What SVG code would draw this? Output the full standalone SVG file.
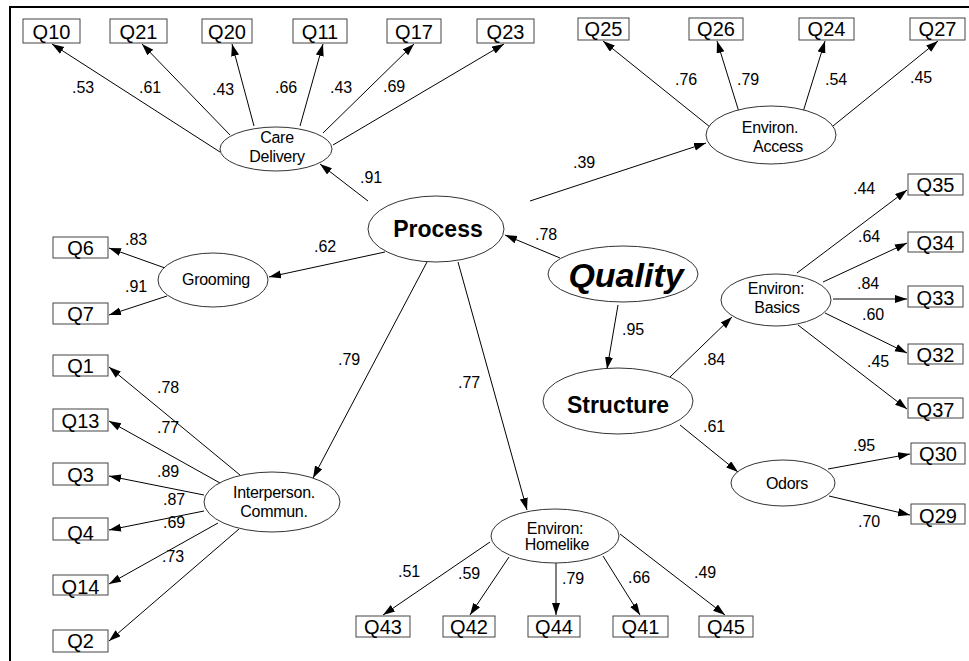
<svg xmlns="http://www.w3.org/2000/svg" width="969" height="661" viewBox="0 0 969 661">
<style>
.bx{fill:#fff;stroke:#444;stroke-width:1}
.bt{font-family:"Liberation Sans",Arial,sans-serif;font-size:20px;text-anchor:middle;fill:#000}
.el{fill:#fff;stroke:#333;stroke-width:1}
.lt{font-family:"Liberation Sans",Arial,sans-serif;font-size:16px;text-anchor:middle;fill:#000;letter-spacing:-0.3px}
.big{font-family:"Liberation Sans",Arial,sans-serif;font-size:23px;font-weight:bold;text-anchor:middle;fill:#000}
.ql{font-family:"Liberation Sans",Arial,sans-serif;font-size:34px;font-weight:bold;font-style:italic;text-anchor:middle;fill:#000}
.cn line{stroke:#000;stroke-width:1;marker-end:url(#ah)}
.cl{font-family:"Liberation Sans",Arial,sans-serif;font-size:16px;fill:#000}
</style>
<defs>
<marker id="ah" markerUnits="userSpaceOnUse" markerWidth="13" markerHeight="9" refX="12" refY="4" orient="auto">
<path d="M0,0 L12,4 L0,8 z" fill="#000"/>
</marker>
</defs>
<rect width="969" height="661" fill="#fff"/>
<path d="M10,661 V7 H969" fill="none" stroke="#000" stroke-width="2"/>

<g class="cn" id="connectors">
<line x1="220" y1="152" x2="52" y2="44"/>
<line x1="230" y1="135" x2="142" y2="44"/>
<line x1="254" y1="126" x2="232" y2="44"/>
<line x1="300" y1="126" x2="323" y2="44"/>
<line x1="323" y1="133" x2="414" y2="44"/>
<line x1="333" y1="145" x2="504" y2="44"/>
<line x1="368" y1="201" x2="320" y2="164"/>
<line x1="530" y1="201" x2="706" y2="143"/>
<line x1="710" y1="127" x2="603" y2="41"/>
<line x1="739" y1="112" x2="717" y2="41"/>
<line x1="803" y1="112" x2="825" y2="41"/>
<line x1="833" y1="126" x2="938" y2="41"/>
<line x1="385" y1="252" x2="269" y2="277"/>
<line x1="165" y1="268" x2="109" y2="248"/>
<line x1="167" y1="296" x2="109" y2="315"/>
<line x1="560" y1="258" x2="505" y2="235"/>
<line x1="618" y1="305" x2="607" y2="369"/>
<line x1="427" y1="262" x2="313" y2="478"/>
<line x1="458" y1="262" x2="527" y2="510"/>
<line x1="670" y1="377" x2="732" y2="317"/>
<line x1="680" y1="425" x2="738" y2="472"/>
<line x1="797" y1="273" x2="907" y2="190"/>
<line x1="823" y1="282" x2="907" y2="243"/>
<line x1="833" y1="299" x2="907" y2="299"/>
<line x1="825" y1="313" x2="907" y2="353"/>
<line x1="798" y1="325" x2="907" y2="409"/>
<line x1="828" y1="469" x2="910" y2="454"/>
<line x1="829" y1="496" x2="910" y2="515"/>
<line x1="240" y1="475" x2="109" y2="367"/>
<line x1="220" y1="483" x2="109" y2="421"/>
<line x1="204" y1="495" x2="109" y2="476"/>
<line x1="204" y1="511" x2="109" y2="530"/>
<line x1="218" y1="523" x2="109" y2="584"/>
<line x1="239" y1="529" x2="109" y2="641"/>
<line x1="490" y1="542" x2="383" y2="615"/>
<line x1="509" y1="557" x2="470" y2="615"/>
<line x1="556" y1="563" x2="556" y2="615"/>
<line x1="603" y1="556" x2="640" y2="615"/>
<line x1="620" y1="534" x2="725" y2="615"/>
<text class="cl" x="72" y="93">.53</text>
<text class="cl" x="139" y="93">.61</text>
<text class="cl" x="212" y="95">.43</text>
<text class="cl" x="275" y="93">.66</text>
<text class="cl" x="330" y="93">.43</text>
<text class="cl" x="383" y="92">.69</text>
<text class="cl" x="360" y="183">.91</text>
<text class="cl" x="573" y="168">.39</text>
<text class="cl" x="675" y="85">.76</text>
<text class="cl" x="737" y="85">.79</text>
<text class="cl" x="825" y="85">.54</text>
<text class="cl" x="910" y="83">.45</text>
<text class="cl" x="314" y="252">.62</text>
<text class="cl" x="125" y="245">.83</text>
<text class="cl" x="125" y="292">.91</text>
<text class="cl" x="535" y="240">.78</text>
<text class="cl" x="622" y="335">.95</text>
<text class="cl" x="338" y="365">.79</text>
<text class="cl" x="458" y="388">.77</text>
<text class="cl" x="703" y="365">.84</text>
<text class="cl" x="703" y="432">.61</text>
<text class="cl" x="853" y="194">.44</text>
<text class="cl" x="858" y="242">.64</text>
<text class="cl" x="857" y="289">.84</text>
<text class="cl" x="862" y="320">.60</text>
<text class="cl" x="867" y="367">.45</text>
<text class="cl" x="853" y="451">.95</text>
<text class="cl" x="858" y="527">.70</text>
<text class="cl" x="157" y="393">.78</text>
<text class="cl" x="157" y="433">.77</text>
<text class="cl" x="157" y="477">.89</text>
<text class="cl" x="163" y="505">.87</text>
<text class="cl" x="163" y="528">.69</text>
<text class="cl" x="162" y="562">.73</text>
<text class="cl" x="398" y="577">.51</text>
<text class="cl" x="458" y="579">.59</text>
<text class="cl" x="562" y="584">.79</text>
<text class="cl" x="628" y="583">.66</text>
<text class="cl" x="694" y="578">.49</text>
</g>

<g id="Q10"><rect class="bx" x="23" y="19" width="57" height="24"/><text class="bt" x="51.5" y="39">Q10</text></g>
<g id="Q21"><rect class="bx" x="110" y="19" width="57" height="24"/><text class="bt" x="138.5" y="39">Q21</text></g>
<g id="Q20"><rect class="bx" x="202" y="19" width="50" height="24"/><text class="bt" x="227" y="39">Q20</text></g>
<g id="Q11"><rect class="bx" x="293" y="19" width="54" height="24"/><text class="bt" x="320" y="39">Q11</text></g>
<g id="Q17"><rect class="bx" x="387" y="19" width="54" height="24"/><text class="bt" x="414" y="39">Q17</text></g>
<g id="Q23"><rect class="bx" x="477" y="19" width="57" height="24"/><text class="bt" x="505.5" y="39">Q23</text></g>
<g id="Q25"><rect class="bx" x="578" y="18" width="51" height="22"/><text class="bt" x="603.5" y="36">Q25</text></g>
<g id="Q26"><rect class="bx" x="689" y="18" width="54" height="22"/><text class="bt" x="716" y="36">Q26</text></g>
<g id="Q24"><rect class="bx" x="799" y="18" width="55" height="22"/><text class="bt" x="826.5" y="36">Q24</text></g>
<g id="Q27"><rect class="bx" x="910" y="18" width="55" height="22"/><text class="bt" x="937.5" y="36">Q27</text></g>
<g id="Q6"><rect class="bx" x="53" y="237" width="55" height="21"/><text class="bt" x="80.5" y="255">Q6</text></g>
<g id="Q7"><rect class="bx" x="53" y="303" width="55" height="21"/><text class="bt" x="80.5" y="321">Q7</text></g>
<g id="Q1"><rect class="bx" x="53" y="355" width="55" height="21"/><text class="bt" x="80.5" y="373">Q1</text></g>
<g id="Q13"><rect class="bx" x="53" y="409" width="55" height="22"/><text class="bt" x="80.5" y="428">Q13</text></g>
<g id="Q3"><rect class="bx" x="53" y="463" width="55" height="22"/><text class="bt" x="80.5" y="482">Q3</text></g>
<g id="Q4"><rect class="bx" x="53" y="518" width="55" height="22"/><text class="bt" x="80.5" y="540">Q4</text></g>
<g id="Q14"><rect class="bx" x="53" y="575" width="55" height="20"/><text class="bt" x="80.5" y="594">Q14</text></g>
<g id="Q2"><rect class="bx" x="53" y="630" width="55" height="22"/><text class="bt" x="80.5" y="648">Q2</text></g>
<g id="Q35"><rect class="bx" x="908" y="174" width="55" height="21"/><text class="bt" x="935.5" y="192">Q35</text></g>
<g id="Q34"><rect class="bx" x="908" y="232" width="55" height="20"/><text class="bt" x="935.5" y="250">Q34</text></g>
<g id="Q33"><rect class="bx" x="908" y="286" width="55" height="21"/><text class="bt" x="935.5" y="305">Q33</text></g>
<g id="Q32"><rect class="bx" x="908" y="344" width="55" height="20"/><text class="bt" x="935.5" y="362">Q32</text></g>
<g id="Q37"><rect class="bx" x="908" y="398" width="55" height="20"/><text class="bt" x="935.5" y="417">Q37</text></g>
<g id="Q30"><rect class="bx" x="911" y="443" width="54" height="21"/><text class="bt" x="938" y="461">Q30</text></g>
<g id="Q29"><rect class="bx" x="911" y="504" width="54" height="20"/><text class="bt" x="938" y="523">Q29</text></g>
<g id="Q43"><rect class="bx" x="356" y="616" width="54" height="21"/><text class="bt" x="383" y="634">Q43</text></g>
<g id="Q42"><rect class="bx" x="443" y="616" width="52" height="21"/><text class="bt" x="469" y="634">Q42</text></g>
<g id="Q44"><rect class="bx" x="528" y="616" width="52" height="21"/><text class="bt" x="554" y="634">Q44</text></g>
<g id="Q41"><rect class="bx" x="613" y="616" width="55" height="21"/><text class="bt" x="640.5" y="634">Q41</text></g>
<g id="Q45"><rect class="bx" x="699" y="616" width="54" height="21"/><text class="bt" x="726" y="634">Q45</text></g>

<g id="CareDelivery"><ellipse class="el" cx="276" cy="149" rx="56" ry="22"/><text class="lt" x="277" y="143">Care</text><text class="lt" x="277" y="162">Delivery</text></g>
<g id="Process"><ellipse class="el" cx="436" cy="229" rx="68" ry="33"/><text class="big" x="438" y="237">Process</text></g>
<g id="Quality"><ellipse class="el" cx="623" cy="274" rx="75" ry="28"/><text class="ql" x="626" y="287">Quality</text></g>
<g id="Structure"><ellipse class="el" cx="618" cy="401" rx="75" ry="33"/><text class="big" x="618" y="413">Structure</text></g>
<g id="Grooming"><ellipse class="el" cx="213" cy="280" rx="55" ry="27"/><text class="lt" x="216" y="285">Grooming</text></g>
<g id="EnvironAccess"><ellipse class="el" cx="771" cy="135" rx="65" ry="29"/><text class="lt" x="770" y="133">Environ.</text><text class="lt" x="778" y="152">Access</text></g>
<g id="EnvironBasics"><ellipse class="el" cx="776" cy="300" rx="55" ry="26"/><text class="lt" x="776" y="294">Environ:</text><text class="lt" x="777" y="313">Basics</text></g>
<g id="Odors"><ellipse class="el" cx="783" cy="483" rx="52" ry="23"/><text class="lt" x="787" y="489">Odors</text></g>
<g id="EnvironHomelike"><ellipse class="el" cx="555" cy="536" rx="64" ry="27"/><text class="lt" x="555" y="534">Environ:</text><text class="lt" x="557" y="550">Homelike</text></g>
<g id="Interperson"><ellipse class="el" cx="272" cy="502" rx="68" ry="30"/><text class="lt" x="274" y="498">Interperson.</text><text class="lt" x="274" y="517">Commun.</text></g>
</svg>
